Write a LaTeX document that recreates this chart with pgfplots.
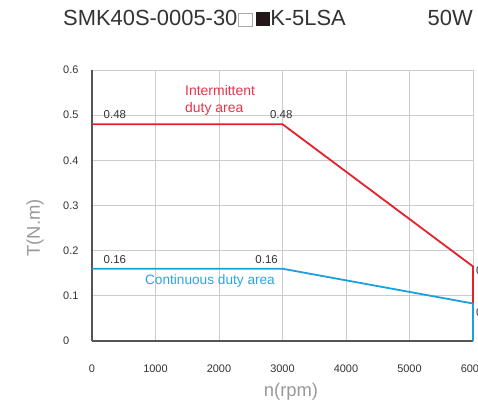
\documentclass[border=0pt]{standalone}
\usepackage{fontspec}
\setmainfont{Liberation Sans}
\usepackage{pgfplots}
\pgfplotsset{compat=1.18}
\definecolor{redline}{HTML}{E4202C}
\definecolor{blueline}{HTML}{1A9FE0}
\definecolor{redtext}{HTML}{E8334A}
\definecolor{bluetext}{HTML}{2AA5E0}
\definecolor{gridgray}{HTML}{CCCCCC}
\definecolor{axisgray}{HTML}{555555}
\definecolor{tickgray}{HTML}{333333}
\definecolor{labelgray}{HTML}{999999}
\definecolor{boxdark}{HTML}{231815}
\definecolor{boxlight}{HTML}{AAAAAA}
\newcommand{\openbox}{{\color{boxlight}\fboxsep=0pt\fboxrule=0.8pt\fbox{\rule{0pt}{12.6bp}\rule{12.6bp}{0pt}}}}
\newcommand{\fullbox}{{\color{boxdark}\rule{14.2bp}{14.2bp}}}
\begin{document}
\begin{tikzpicture}
\begin{axis}[
  at={(0,0)}, anchor=south west,
  scale only axis, width=381bp, height=271bp,
  xmin=0, xmax=6000, ymin=0, ymax=0.6,
  xtick={0,1000,2000,3000,4000,5000,6000},
  ytick={0,0.1,0.2,0.3,0.4,0.5,0.6},
  yticklabels={0,0.1,0.2,0.3,0.4,0.5,0.6},
  xticklabels={0,1000,2000,3000,4000,5000,6000},
  grid=major, grid style={color=gridgray, line width=1pt},
  axis x line*=bottom, axis y line*=left,
  axis line style={color=axisgray, line width=1.6pt, -},
  major tick length=0pt,
  tick label style={font=\fontsize{11}{13}\selectfont, text=tickgray, inner sep=0pt},
  xticklabel style={anchor=base, yshift=-31bp},
  yticklabel style={anchor=west, xshift=-29bp},
  clip=false,
]
\addplot[redline, line width=1.8pt] coordinates {(0,0.48) (3000,0.48) (6000,0.165) (6000,0.083)};
\addplot[blueline, line width=1.8pt] coordinates {(0,0.16) (3000,0.16) (6000,0.083) (6000,0)};
\node[font=\fontsize{11.5}{13}\selectfont, text=tickgray, anchor=base] at (axis cs:360,0.492) {0.48};
\node[font=\fontsize{11.5}{13}\selectfont, text=tickgray, anchor=base] at (axis cs:2980,0.492) {0.48};
\node[font=\fontsize{11.5}{13}\selectfont, text=tickgray, anchor=base] at (axis cs:360,0.172) {0.16};
\node[font=\fontsize{11.5}{13}\selectfont, text=tickgray, anchor=base] at (axis cs:2750,0.172) {0.16};
\node[font=\fontsize{14}{17}\selectfont, text=redtext, anchor=north west, align=left, inner sep=0pt] at (axis cs:1465,0.566) {Intermittent\\duty area};
\node[font=\fontsize{13.7}{16}\selectfont, text=bluetext, anchor=center, inner sep=0pt] at (axis cs:1858,0.133) {Continuous duty area};
\node[font=\fontsize{11.5}{13}\selectfont, text=tickgray, anchor=west, inner sep=0pt] at (axis cs:6000,0.157) {\hspace{3bp}0.16};
\node[font=\fontsize{11.5}{13}\selectfont, text=tickgray, anchor=west, inner sep=0pt] at (axis cs:6000,0.062) {\hspace{3bp}0.08};
\end{axis}
\node[anchor=base west, inner sep=0pt, text=tickgray, font=\fontsize{22}{26}\selectfont] at (-29bp,315bp) {SMK40S-0005-30\hspace{1bp}\openbox\hspace{3bp}\fullbox\hspace{0.5bp}K-5LSA};
\node[anchor=base east, inner sep=0pt, text=tickgray, font=\fontsize{22}{26}\selectfont] at (381bp,315bp) {50W};
\node[text=labelgray, font=\fontsize{18.5}{20}\selectfont, inner sep=0pt] at (199bp,-51bp) {n(rpm)};
\node[text=labelgray, font=\fontsize{18.5}{20}\selectfont, inner sep=0pt, rotate=90] at (-57bp,113bp) {T(N.m)};
\pgfresetboundingbox
\path[use as bounding box] (-92bp,-63bp) rectangle (386bp,341bp);
\end{tikzpicture}
\end{document}
